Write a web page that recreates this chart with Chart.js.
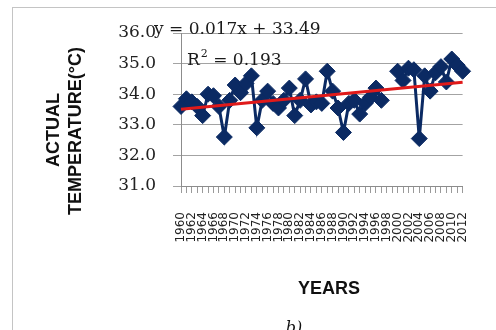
<!DOCTYPE html>
<html>
<head>
<meta charset="utf-8">
<script src="https://cdn.jsdelivr.net/npm/chart.js@4"></script>
<style>
  html, body { margin: 0; padding: 0; background: #fff; }
  #wrap { width: 496px; height: 330px; position: relative; }
</style>
</head>
<body>
<div id="wrap"><canvas id="chart"></canvas></div>
<script>
// Actual temperature per year, with linear trend line
const years = [
  '1960', '1961', '1962', '1963', '1964', '1965', '1966', '1967', '1968', '1969',
  '1970', '1971', '1972', '1973', '1974', '1975', '1976', '1977', '1978', '1979',
  '1980', '1981', '1982', '1983', '1984', '1985', '1986', '1987', '1988', '1989',
  '1990', '1991', '1992', '1993', '1994', '1995', '1996', '1997', '1998', '1999',
  '2000', '2001', '2002', '2003', '2004', '2005', '2006', '2007', '2008', '2009',
  '2010', '2011', '2012',
];
const temps = [
  33.6, 33.85, 33.75, 33.6, 33.3, 34.0, 33.95, 33.6, 32.6, 33.8,
  34.3, 34.05, 34.35, 34.6, 32.9, 33.8, 34.1, 33.7, 33.55, 33.8,
  34.2, 33.3, 33.8, 34.5, 33.65, 33.75, 33.7, 34.75, 34.1, 33.55,
  32.75, 33.7, 33.8, 33.35, 33.7, 33.9, 34.2, 33.8, null, null,
  34.75, 34.45, 34.85, 34.8, 32.55, 34.6, 34.1, 34.7, 34.9, 34.4,
  35.15, 34.95, 34.75,
];
const trendYears = ['1960', '2012'];
const trendValues = [33.51, 34.39];
const yTicks = [31, 32, 33, 34, 35, 36];

const equationText = 'y = 0.017x + 33.49';
const r2Value = '0.193';

const serif = '"DejaVu Serif", serif';
const sans = '"Liberation Sans", Arial, sans-serif';

const textPlugin = {
  id: 'texts',
  afterDraw(chart) {
    const ctx = chart.ctx;
    ctx.save();
    // outer frame
    ctx.strokeStyle = '#c4c4c4';
    ctx.lineWidth = 1;
    ctx.strokeRect(12.5, 7.5, 500, 340);

    // trend equation
    ctx.fillStyle = '#1a1a1a';
    ctx.font = '17px ' + serif;
    ctx.textAlign = 'left';
    ctx.textBaseline = 'alphabetic';
    ctx.fillText(equationText, 154, 34);
    ctx.fillText('R', 187, 65);
    let w = ctx.measureText('R').width;
    ctx.font = '11px ' + serif;
    ctx.fillText('2', 187 + w + 1, 57);
    const w2 = ctx.measureText('2').width;
    ctx.font = '17px ' + serif;
    ctx.fillText(' = ' + r2Value, 187 + w + w2 + 1, 65);

    // axis titles
    ctx.fillStyle = '#111';
    ctx.font = 'bold 18px ' + sans;
    ctx.textAlign = 'center';
    ctx.textBaseline = 'middle';
    ctx.fillText('YEARS', 329, 289);
    ctx.save();
    ctx.translate(54, 130);
    ctx.rotate(-Math.PI / 2);
    ctx.fillText('ACTUAL', 0, 0);
    ctx.restore();
    ctx.save();
    ctx.translate(76, 131);
    ctx.rotate(-Math.PI / 2);
    ctx.fillText('TEMPERATURE(°C)', 0, 0);
    ctx.restore();

    // caption
    ctx.font = 'italic 16px ' + serif;
    ctx.textBaseline = 'alphabetic';
    ctx.fillText('b)', 294, 333);
    ctx.restore();
  },
};

new Chart(document.getElementById('chart'), {
  type: 'line',
  data: {
    labels: years,
    datasets: [
      {
        label: 'Linear',
        data: trendYears.map((y, i) => ({ x: y, y: trendValues[i] })),
        borderColor: '#e01a1a',
        borderWidth: 3,
        pointRadius: 0,
        fill: false,
      },
      {
        label: 'Actual temperature',
        data: temps,
        borderColor: '#0b2a63',
        backgroundColor: '#0b2a63',
        borderWidth: 3,
        pointStyle: 'rectRot',
        pointRadius: 8,
        pointBorderWidth: 1,
        spanGaps: false,
        clip: false,
        fill: false,
      },
    ],
  },
  options: {
    responsive: true,
    maintainAspectRatio: false,
    animation: false,
    layout: { padding: { left: 40, right: 16, top: 33, bottom: 0 } },
    plugins: { legend: { display: false }, tooltip: { enabled: false } },
    scales: {
      x: {
        offset: false,
        afterFit: (s) => { s.height = 144; },
        grid: {
          drawOnChartArea: false,
          drawTicks: true,
          tickLength: 7,
          color: '#9a9a9a',
        },
        border: { color: '#8c8c8c', width: 1 },
        ticks: {
          autoSkip: false,
          minRotation: 90,
          maxRotation: 90,
          padding: 19,
          color: '#222',
          font: { family: '"DejaVu Sans", sans-serif', size: 12 },
          callback: function (v, i) {
            const lbl = this.getLabelForValue(v);
            return Number(lbl) % 2 === 0 ? lbl : '';
          },
        },
      },
      y: {
        min: 31,
        max: 36,
        afterFit: (s) => { s.width = 141; },
        afterBuildTicks: (s) => { s.ticks = yTicks.map((v) => ({ value: v })); },
        grid: { color: '#a3a3a3', tickLength: 8, lineWidth: 1 },
        border: { color: '#8c8c8c', width: 1 },
        ticks: {
          padding: 17,
          color: '#222',
          font: { family: serif, size: 17 },
          callback: (v) => Number(v).toFixed(1),
        },
      },
    },
  },
  plugins: [textPlugin],
});
</script>
</body>
</html>
